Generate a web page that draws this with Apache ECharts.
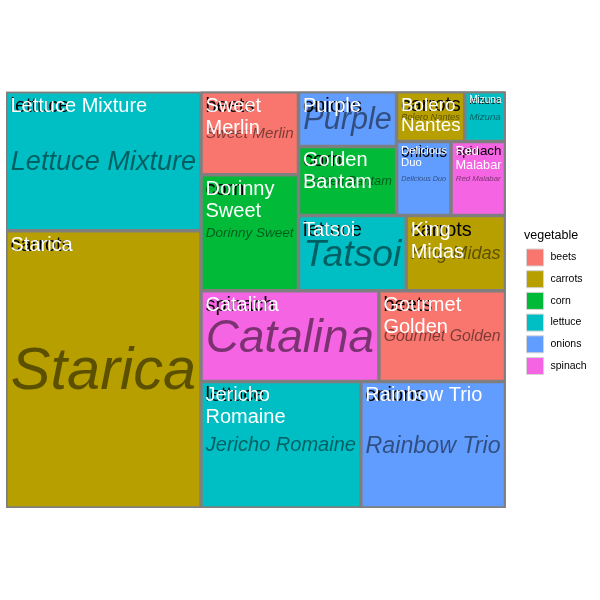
<!DOCTYPE html>
<html>
<head>
<meta charset="utf-8">
<script src="https://cdn.jsdelivr.net/npm/echarts@6/dist/echarts.min.js"></script>
<style>html,body{margin:0;padding:0;background:#fff}#c{width:600px;height:600px}</style>
</head>
<body>
<div id="c"></div>
<script>
// ---------------- data ----------------
const vegetables = ['beets', 'carrots', 'corn', 'lettuce', 'onions', 'spinach'];
const vegetableColors = ['#F8766D', '#B79F00', '#00BA38', '#00BFC4', '#619CFF', '#F564E3'];

const varieties = ['Lettuce Mixture', 'Starica', 'Sweet Merlin', 'Dorinny Sweet', 'Purple',
  'Golden Bantam', 'Bolero Nantes', 'Mizuna', 'Delicious Duo', 'Red Malabar', 'Tatsoi',
  'King Midas', 'Catalina', 'Gourmet Golden', 'Jericho Romaine', 'Rainbow Trio'];
const varietyVegetable = ['lettuce', 'carrots', 'beets', 'corn', 'onions',
  'corn', 'carrots', 'lettuce', 'onions', 'spinach', 'lettuce',
  'carrots', 'spinach', 'beets', 'lettuce', 'onions'];
const harvestWeight = [2698, 5386, 806, 1128, 534,
  676, 337, 202, 402, 403, 807,
  744, 1605, 1142, 2015, 1824];
// variety labels as wrapped in the reference
const varietyLabelLines = ['Lettuce Mixture', 'Starica', 'Sweet\nMerlin', 'Dorinny\nSweet', 'Purple',
  'Golden\nBantam', 'Bolero\nNantes', 'Mizuna', 'Delicious\nDuo', 'Red\nMalabar', 'Tatsoi',
  'King\nMidas', 'Catalina', 'Gourmet\nGolden', 'Jericho\nRomaine', 'Rainbow Trio'];

// arrangement of tiles (indices into varieties); groups are invisible
const tileGroups = [0, 1, [[2, 3], [[4, 5, [6, 7, 8, 9]], [10, 11]], [[12, 13], [14, 15]]]];

// ---------------- style ----------------
const FONT = "'Liberation Sans', Arial, Helvetica, sans-serif";
const BORDER = '#7f7f7f';
const BORDER_W = 1.75;
const SQUARE_RATIO = 1.437;
const BOX = { left: 6, top: 91.7, width: 499.5, height: 416.3 };

const chart = echarts.init(document.getElementById('c'), null, { renderer: 'canvas' });

const measureCtx = document.createElement('canvas').getContext('2d');
function emWidth(text, italic) {
  measureCtx.font = (italic ? 'italic ' : '') + '100px ' + FONT;
  return Math.max(...text.split('\n').map(t => measureCtx.measureText(t).width)) / 100;
}

function colorOf(i) {
  return vegetableColors[vegetables.indexOf(varietyVegetable[i])];
}

function buildNodes(spec, leafFn) {
  return spec.map(s => Array.isArray(s)
    ? { name: '', children: buildNodes(s, leafFn), label: { show: false } }
    : leafFn(s));
}

function sizesFor(i, dims) {
  if (!dims) return { italic: 12, white: 14, black: 14 };
  const w = dims.width - 2 * BORDER_W, h = dims.height - 2 * BORDER_W;
  const lines = varietyLabelLines[i].split('\n').length;
  return {
    italic: Math.min((w - 6) / emWidth(varieties[i], true), h * 0.85),
    white: Math.min(20, (w - 5) / emWidth(varietyLabelLines[i], false), (h - 2) / (lines * 1.1)),
    black: Math.min(20, (w - 5) / emWidth(varietyVegetable[i], false))
  };
}

function makeOption(dimsByName) {
  const dims = i => dimsByName ? dimsByName[varieties[i]] : null;

  const tileLeaf = i => {
    const s = sizesFor(i, dims(i));
    return {
      name: varieties[i], value: harvestWeight[i],
      itemStyle: { color: colorOf(i), borderColor: BORDER, borderWidth: BORDER_W },
      label: {
        show: true, position: 'insideLeft', formatter: varieties[i],
        fontStyle: 'italic', fontSize: s.italic, lineHeight: s.italic * 1.1,
        color: 'rgba(0,0,0,0.5)', fontFamily: FONT, padding: [0, 0, 0, 3],
        offset: [0, 0.06 * s.italic], overflow: 'none'
      }
    };
  };
  const textLeaf = (kind) => i => {
    const s = sizesFor(i, dims(i));
    const size = kind === 'white' ? s.white : s.black;
    return {
      name: varieties[i], value: harvestWeight[i],
      itemStyle: { color: 'rgba(0,0,0,0)', borderColor: 'rgba(0,0,0,0)', borderWidth: 0 },
      label: {
        show: true, position: 'insideTopLeft',
        formatter: kind === 'white' ? varietyLabelLines[i] : varietyVegetable[i],
        fontSize: size, lineHeight: size * 1.1, fontFamily: FONT,
        color: kind === 'white' ? '#ffffff' : '#000000',
        padding: [0, 0, 0, 4.5], offset: [0, 2 + 0.075 * size], overflow: 'none'
      }
    };
  };

  const common = Object.assign({
    type: 'treemap', roam: false, nodeClick: false, breadcrumb: { show: false },
    sort: false, squareRatio: SQUARE_RATIO, animation: false, silent: true,
    visibleMin: 0, emphasis: { disabled: true }, levels: []
  }, BOX);

  return {
    backgroundColor: '#ffffff',
    animation: false,
    title: {
      text: 'vegetable', left: 524, top: 229, padding: 0,
      textStyle: { fontSize: 12.5, fontWeight: 'normal', color: '#000', fontFamily: FONT }
    },
    legend: {
      data: vegetables, orient: 'vertical', left: 526, top: 248.5, padding: 0,
      itemWidth: 17, itemHeight: 17, itemGap: 3.7, icon: 'rect', selectedMode: false,
      itemStyle: { borderColor: '#d4d4d4', borderWidth: 1 },
      textStyle: { fontSize: 10.5, color: '#000', fontFamily: FONT, padding: [0, 0, 0, 2] }
    },
    series: [
      Object.assign({}, common, {
        name: 'tiles',
        itemStyle: { borderColor: BORDER, borderWidth: 0, gapWidth: 0 },
        data: buildNodes(tileGroups, tileLeaf)
      }),
      Object.assign({}, common, {
        name: 'vegetableText',
        itemStyle: { color: 'rgba(0,0,0,0)', borderColor: 'rgba(0,0,0,0)', borderWidth: 0, gapWidth: 0 },
        data: buildNodes(tileGroups, textLeaf('black'))
      }),
      Object.assign({}, common, {
        name: 'varietyText',
        itemStyle: { color: 'rgba(0,0,0,0)', borderColor: 'rgba(0,0,0,0)', borderWidth: 0, gapWidth: 0 },
        data: buildNodes(tileGroups, textLeaf('white'))
      }),
      {
        type: 'pie', radius: [0, 0], center: [-50, -50], silent: true,
        label: { show: false }, labelLine: { show: false }, animation: false,
        data: vegetables.map((v, k) => ({ name: v, value: 1, itemStyle: { color: vegetableColors[k] } }))
      }
    ]
  };
}

// first pass: let ECharts lay out the tiles, then fit label sizes to the tiles
chart.setOption(makeOption(null));
let dimsByName = null;
try {
  const data = chart.getModel().getSeriesByIndex(0).getData();
  dimsByName = {};
  data.each(idx => {
    const name = data.getName(idx);
    const l = data.getItemLayout(idx);
    if (name && l && varieties.includes(name)) dimsByName[name] = { width: l.width, height: l.height };
  });
} catch (e) { dimsByName = null; }
chart.setOption(makeOption(dimsByName), true);
</script>
</body>
</html>
